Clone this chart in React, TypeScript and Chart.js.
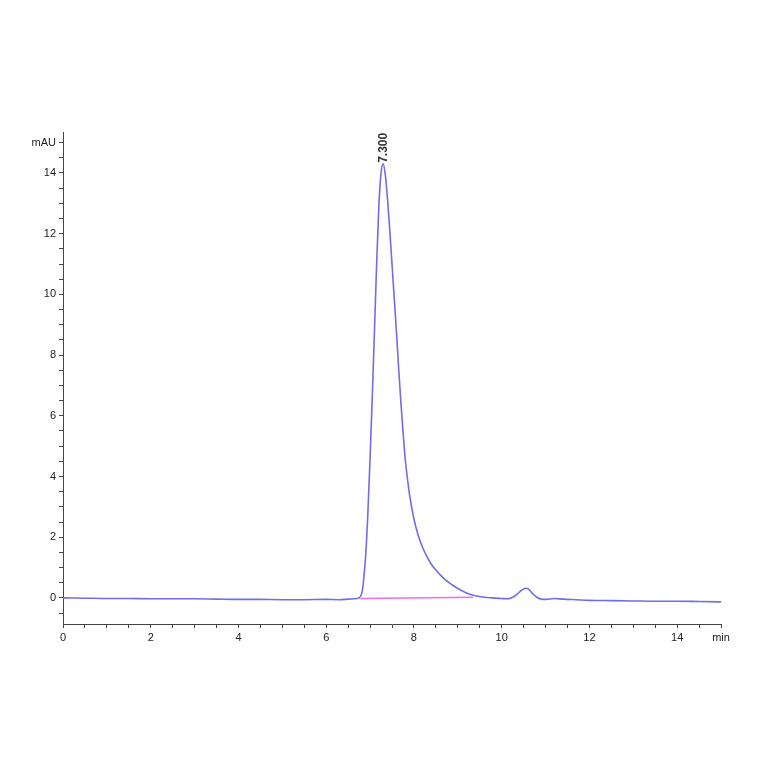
import React, { useEffect, useRef } from 'react';
import { Chart, registerables } from 'chart.js';

Chart.register(...registerables);

// retention time (min) and signal (mAU)
const timeMin = [
    0, 0.5, 1, 1.5, 2, 2.5, 3, 3.5, 4, 4.5, 5, 5.5, 6, 6.3, 6.5, 6.7, 6.75, 6.8, 6.83, 6.86, 6.9, 6.95,
    7.0, 7.05, 7.1, 7.15, 7.2, 7.25, 7.3, 7.35, 7.4, 7.45, 7.5, 7.55, 7.6, 7.65, 7.7, 7.75, 7.8, 7.85, 7.9, 8.0,
    8.1, 8.2, 8.3, 8.4, 8.5, 8.6, 8.7, 8.8, 8.9, 9.0, 9.2, 9.4, 9.6, 9.8, 10.0, 10.15, 10.25, 10.35,
    10.45, 10.55, 10.62, 10.7, 10.8, 10.9, 11.0, 11.2, 11.4, 11.7, 12, 12.5, 13, 13.5, 14, 14.5, 15,
];
const signalMAU = [
    0, -0.01, -0.02, -0.02, -0.03, -0.03, -0.03, -0.04, -0.05, -0.05, -0.06, -0.06, -0.05, -0.06, -0.04, -0.02, 0.0, 0.1, 0.3, 0.7, 1.4, 2.8,
    4.6, 6.6, 8.8, 11.0, 12.9, 14.0, 14.3, 13.9, 13.1, 12.1, 11.0, 9.9, 8.8, 7.6, 6.5, 5.5, 4.6, 3.95, 3.4, 2.6,
    2.05, 1.65, 1.35, 1.1, 0.92, 0.76, 0.62, 0.5, 0.4, 0.31, 0.16, 0.07, 0.02, 0.0, -0.02, -0.03, 0.02, 0.12,
    0.25, 0.32, 0.28, 0.15, 0.02, -0.04, -0.05, -0.02, -0.04, -0.06, -0.08, -0.09, -0.1, -0.11, -0.11, -0.12, -0.13,
];

// integration baseline for the main peak
const baselineTime = [6.78, 9.35];
const baselineValue = [-0.02, 0.02];

const peakTime = 7.3;
const peakHeight = 14.3;
const peakLabel = '7.300';

const FONT = '"Liberation Sans", Arial, sans-serif';

const peakLabelPlugin = {
    id: 'peakLabel',
    afterDatasetsDraw(chart: any) {
        const { ctx, scales } = chart;
        const px = scales.x.getPixelForValue(peakTime);
        const py = scales.y.getPixelForValue(peakHeight);
        ctx.save();
        ctx.translate(px + 4, py - 1);
        ctx.rotate(-Math.PI / 2);
        ctx.font = `bold 12px ${FONT}`;
        ctx.fillStyle = '#333';
        ctx.textAlign = 'left';
        ctx.textBaseline = 'alphabetic';
        ctx.fillText(peakLabel, 0, 0);
        ctx.restore();
    },
};

export default function App() {
    const canvasRef = useRef<HTMLCanvasElement>(null);

    useEffect(() => {
        if (!canvasRef.current) return;
        const trace = timeMin.map((t, i) => ({ x: t, y: signalMAU[i] }));
        const baseline = baselineTime.map((t, i) => ({ x: t, y: baselineValue[i] }));

        const chart = new Chart(canvasRef.current, {
            type: 'line',
            data: {
                datasets: [
                    {
                        data: baseline,
                        borderColor: '#f06cf0',
                        borderWidth: 1.5,
                        pointRadius: 0,
                    },
                    {
                        data: trace,
                        borderColor: 'rgb(110, 110, 232)',
                        borderWidth: 1.6,
                        pointRadius: 0,
                        cubicInterpolationMode: 'monotone',
                    },
                ],
            },
            options: {
                animation: false,
                responsive: false,
                devicePixelRatio: 1,
                layout: { padding: { top: 132, right: 43, left: 0, bottom: 0 } },
                plugins: { legend: { display: false }, tooltip: { enabled: false } },
                scales: {
                    x: {
                        type: 'linear',
                        min: 0,
                        max: 15,
                        afterFit: (s: any) => { s.height = 140; },
                        border: { color: '#444', width: 1 },
                        grid: { drawOnChartArea: false, tickLength: 4, color: '#444' },
                        ticks: {
                            stepSize: 0.5,
                            autoSkip: false,
                            maxRotation: 0,
                            includeBounds: false,
                            padding: 3,
                            color: '#222',
                            font: { family: FONT, size: 11 },
                            callback: (v: any) => (v === 15 ? 'min' : v % 2 === 0 ? String(v) : ''),
                        },
                    },
                    y: {
                        type: 'linear',
                        min: -0.86,
                        max: 15.35,
                        afterFit: (s: any) => { s.width = 63; },
                        border: { color: '#444', width: 1 },
                        grid: { drawOnChartArea: false, tickLength: 4, color: '#444' },
                        ticks: {
                            stepSize: 0.5,
                            autoSkip: false,
                            includeBounds: false,
                            padding: 3,
                            color: '#222',
                            font: { family: FONT, size: 11 },
                            callback: (v: any) => (v === 15 ? 'mAU' : v % 2 === 0 ? String(v) : ''),
                        },
                    },
                },
            },
            plugins: [peakLabelPlugin],
        } as any);

        return () => chart.destroy();
    }, []);

    return (
        <div style={{ position: 'absolute', left: 0, top: 0, width: 764, height: 764, background: '#fff' }}>
            <canvas ref={canvasRef} width={764} height={764} />
        </div>
    );
}
